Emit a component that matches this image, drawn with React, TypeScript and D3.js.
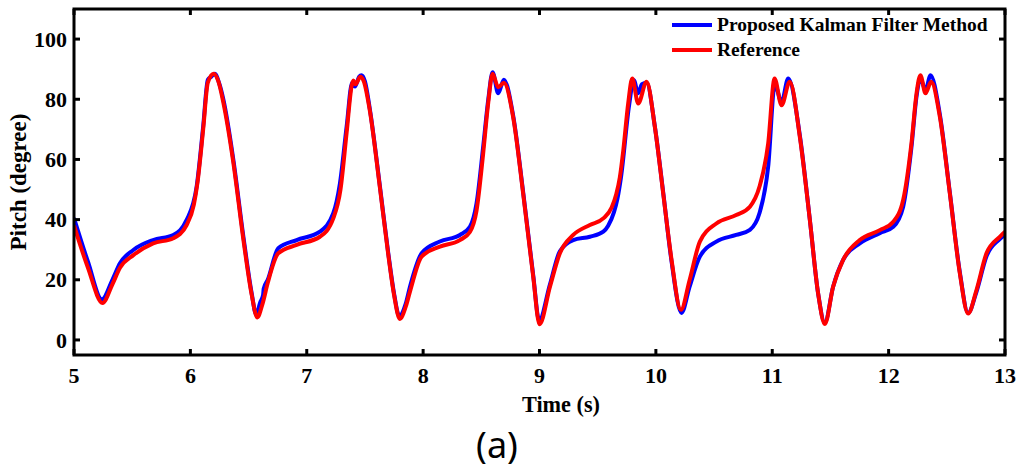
import * as d3 from "d3";

// Kalman filter estimate (blue)
const kalmanTime = [
  5.0, 5.12, 5.24, 5.33, 5.395, 5.51, 5.68, 5.853, 5.968, 6.054, 6.11, 6.15, 6.18, 6.21, 6.25, 6.283,
  6.369, 6.455, 6.527, 6.565, 6.6, 6.625, 6.63, 6.665, 6.755, 6.913, 7.113, 7.228, 7.285, 7.343, 7.39,
  7.414, 7.45, 7.47, 7.5, 7.543, 7.629, 7.7, 7.75, 7.795, 7.85, 7.887, 7.987, 8.144, 8.316, 8.402, 8.459,
  8.516, 8.56, 8.597, 8.645, 8.694, 8.774, 8.86, 8.946, 8.997, 9.09, 9.175, 9.29, 9.433, 9.548, 9.59,
  9.64, 9.67, 9.7, 9.77, 9.81, 9.848, 9.88, 9.92, 9.991, 10.063, 10.135, 10.22, 10.29, 10.378, 10.52,
  10.69, 10.808, 10.89, 10.965, 11.022, 11.08, 11.137, 11.237, 11.323, 11.394, 11.452, 11.523, 11.609,
  11.752, 11.924, 12.04, 12.125, 12.196, 12.24, 12.273, 12.317, 12.36, 12.44, 12.526, 12.612, 12.683,
  12.755, 12.841, 12.955, 13.0,
];
const kalmanPitch = [
  40.5, 26, 13.5, 20, 25.5, 29.9, 33.2, 34.9, 39.9, 51, 71, 86.5, 87.5, 88.5, 85, 80,
  60, 34.5, 15.5, 8.5, 12.5, 15, 17, 20, 30.5, 33.2, 36, 42.1, 52, 71, 85.5,
  84.2, 87.5, 88, 86, 76.5, 51, 29, 15.5, 8, 12, 17.7, 28.8, 32.7, 34.9, 37.6, 45.4,
  64.2, 80, 89, 82, 86.5, 74.5, 49, 21.5, 6.5, 18.5, 29.5, 33.2, 34.3, 36, 38,
  42.5, 47, 54, 78, 86.4, 82, 85, 85.5, 71, 49, 26, 9, 17.7, 27.7, 32.7,
  34.9, 36.6, 42.1, 57.6, 85, 79, 86.9, 68, 40, 15.5, 5.8, 17.7, 26.6,
  32.1, 35.5, 37.6, 44.3, 64, 81, 87, 83, 88, 75, 49, 22.5, 9,
  16, 27.8, 33.5, 35,
];

// Reference (red)
const refTime = [
  5.0, 5.12, 5.245, 5.33, 5.395, 5.51, 5.68, 5.853, 5.968, 6.03, 6.06, 6.11, 6.15, 6.2, 6.24, 6.283,
  6.369, 6.455, 6.527, 6.575, 6.62, 6.665, 6.755, 6.913, 7.113, 7.228, 7.29, 7.343, 7.386, 7.4, 7.42,
  7.46, 7.49, 7.543, 7.629, 7.7, 7.75, 7.8, 7.85, 7.89, 7.987, 8.144, 8.316, 8.402, 8.459, 8.516, 8.56,
  8.597, 8.645, 8.694, 8.774, 8.86, 8.946, 9.0, 9.09, 9.175, 9.29, 9.433, 9.548, 9.62, 9.66, 9.69, 9.72,
  9.762, 9.797, 9.848, 9.92, 9.991, 10.063, 10.135, 10.215, 10.29, 10.378, 10.52, 10.69, 10.808, 10.89,
  10.965, 11.02, 11.08, 11.15, 11.237, 11.323, 11.394, 11.452, 11.523, 11.609, 11.752, 11.924, 12.04,
  12.125, 12.196, 12.24, 12.273, 12.317, 12.365, 12.44, 12.526, 12.612, 12.683, 12.755, 12.841, 12.955,
  13.0,
];
const refPitch = [
  38, 24, 12.3, 18.5, 24, 28.2, 32.1, 33.8, 38.2, 45, 52, 70, 85.5, 88.5, 86, 79,
  59, 33.5, 15, 7.5, 12, 19, 28.8, 31.6, 34.3, 40.4, 50, 69, 84.5, 86.2, 85,
  87.5, 86, 76, 50.5, 28.5, 15, 7, 11, 16.5, 27.7, 31, 33.2, 35.9, 43, 62, 79,
  88.5, 84, 85.5, 74, 48.5, 21, 5.2, 17.7, 28.8, 34.9, 38.2, 40.4, 44, 48.5, 54, 63,
  78.6, 86.9, 78.6, 85.8, 70.9, 48.7, 26.6, 10, 19.9, 32.7, 38.7, 41.5, 44.3, 50.9,
  65.3, 86.9, 78, 85.8, 67.5, 39.9, 15.5, 5.3, 17.7, 26.6, 33.2, 36.5, 39.3,
  46.5, 65.3, 82, 88, 82, 85.8, 74.2, 48.7, 22.1, 8.8, 16.6, 28.8, 34.3,
  36,
];

const xTicks = [5, 6, 7, 8, 9, 10, 11, 12, 13];
const yTicks = [0, 20, 40, 60, 80, 100];

const legendLabels = ["Proposed Kalman Filter Method", "Reference"];
const BLUE = "#0000ff";
const RED = "#ff0000";

const W = 1024;
const H = 475;
const M = { left: 74, right: 1005, top: 9, bottom: 355 };
const FONT = "'Liberation Serif', 'Times New Roman', serif";

export default function App() {
  const x = d3.scaleLinear().domain([5, 13]).range([M.left, M.right]);
  const y = d3.scaleLinear().domain([-5, 110]).range([M.bottom, M.top]);

  const line = d3
    .line<[number, number]>()
    .x((d) => x(d[0]))
    .y((d) => y(d[1]))
    .curve(d3.curveMonotoneX);

  const kalman = kalmanTime.map((t, i) => [t, kalmanPitch[i]] as [number, number]);
  const reference = refTime.map((t, i) => [t, refPitch[i]] as [number, number]);

  const tickLen = 6;

  return (
    <>
      <style>{"body{margin:0}"}</style>
      <svg width={W} height={H} style={{ display: "block", background: "#fff" }}>
        <defs>
          <clipPath id="plot">
            <rect x={M.left} y={M.top} width={M.right - M.left} height={M.bottom - M.top} />
          </clipPath>
        </defs>

        <g clipPath="url(#plot)">
          <path d={line(kalman) ?? ""} fill="none" stroke={BLUE} strokeWidth={4} strokeLinejoin="round" />
          <path d={line(reference) ?? ""} fill="none" stroke={RED} strokeWidth={4} strokeLinejoin="round" />
        </g>

        {/* frame */}
        <rect
          x={M.left}
          y={M.top}
          width={M.right - M.left}
          height={M.bottom - M.top}
          fill="none"
          stroke="#000"
          strokeWidth={3}
        />

        {/* inward ticks on all four sides */}
        {xTicks.map((t) => (
          <g key={`x${t}`}>
            <line x1={x(t)} x2={x(t)} y1={M.bottom} y2={M.bottom - tickLen} stroke="#000" strokeWidth={3} />
            <line x1={x(t)} x2={x(t)} y1={M.top} y2={M.top + tickLen} stroke="#000" strokeWidth={3} />
            <text
              x={x(t)}
              y={383}
              textAnchor="middle"
              fontFamily={FONT}
              fontWeight="bold"
              fontSize={22}
            >
              {t}
            </text>
          </g>
        ))}
        {yTicks.map((t) => (
          <g key={`y${t}`}>
            <line x1={M.left} x2={M.left + tickLen} y1={y(t)} y2={y(t)} stroke="#000" strokeWidth={3} />
            <line x1={M.right} x2={M.right - tickLen} y1={y(t)} y2={y(t)} stroke="#000" strokeWidth={3} />
            <text
              x={67}
              y={y(t)}
              dy="0.35em"
              textAnchor="end"
              fontFamily={FONT}
              fontWeight="bold"
              fontSize={22}
            >
              {t}
            </text>
          </g>
        ))}

        {/* axis titles */}
        <text
          x={561}
          y={412}
          textAnchor="middle"
          fontFamily={FONT}
          fontWeight="bold"
          fontSize={23}
          textLength={78}
          lengthAdjust="spacingAndGlyphs"
        >
          Time (s)
        </text>
        <text
          transform={`translate(26, ${(M.top + M.bottom) / 2}) rotate(-90)`}
          textAnchor="middle"
          fontFamily={FONT}
          fontWeight="bold"
          fontSize={23}
        >
          Pitch (degree)
        </text>

        {/* legend */}
        {legendLabels.map((label, i) => (
          <g key={label} transform={`translate(0, ${25 + i * 25})`}>
            <line x1={672} x2={712} y1={0} y2={0} stroke={i === 0 ? BLUE : RED} strokeWidth={4} />
            <text x={717} y={0} dy="0.33em" fontFamily={FONT} fontWeight="bold" fontSize={19.5}>
              {label}
            </text>
          </g>
        ))}

        {/* panel label */}
        <text x={497} y={458} textAnchor="middle" fontFamily="'Noto Sans', sans-serif" fontSize={36}>
          (a)
        </text>
      </svg>
    </>
  );
}
